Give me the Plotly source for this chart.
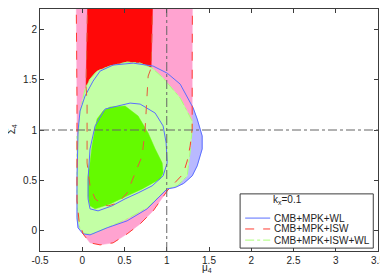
import plotly.graph_objects as go

# ---- contour data (mu_4, Sigma_4) ----
# CMB+MPK+WL 2-sigma
wl2_mu = [0.128, 0.211, 0.365, 0.602, 0.839, 1.005, 1.159, 1.313, 1.36, 1.419, 1.419, 1.36, 1.301, 1.20, 1.10,
          1.005, 0.768, 0.531, 0.294, 0.092, 0.009, -0.05, -0.062, -0.062, -0.05, -0.026, 0.033, 0.128]
wl2_sig = [1.485, 1.584, 1.644, 1.663, 1.634, 1.564, 1.455, 1.218, 1.109, 0.941, 0.812, 0.644, 0.545, 0.47, 0.43,
           0.416, 0.218, 0.099, 0.03, -0.04, -0.03, 0.03, 0.129, 0.495, 0.99, 1.188, 1.337, 1.485]
# CMB+MPK+WL 1-sigma
wl1_mu = [0.152, 0.270, 0.566, 0.685, 0.863, 0.957, 0.993, 1.005, 0.957, 0.827, 0.661, 0.507, 0.353, 0.187,
          0.092, 0.069, 0.069, 0.092, 0.152]
wl1_sig = [1.040, 1.208, 1.267, 1.257, 1.168, 1.040, 0.871, 0.673, 0.545, 0.446, 0.376, 0.317, 0.248, 0.198,
           0.218, 0.317, 0.515, 0.812, 1.040]
# CMB+MPK+ISW 2-sigma
isw2_mu = [-0.073, -0.062, -0.062, -0.038, 0.009, 0.092, 0.211, 0.365, 0.531, 0.685, 0.839, 1.005, 1.194, 1.242,
           1.277, 1.301, 1.301, 1.305, 1.305]
isw2_sig = [2.5, 1.287, 0.297, 0.099, -0.030, -0.119, -0.139, -0.119, -0.030, 0.069, 0.198, 0.396, 0.564, 0.693,
            0.842, 1.010, 1.683, 2.198, 2.5]
# CMB+MPK+ISW 1-sigma
isw1_mu = [0.069, 0.045, 0.057, 0.057, 0.092, 0.152, 0.235, 0.306, 0.424, 0.531, 0.626, 0.709, 0.744, 0.768,
           0.780, 0.815, 0.839, 0.84]
isw1_sig = [2.5, 1.436, 1.267, 0.673, 0.446, 0.317, 0.267, 0.248, 0.277, 0.376, 0.574, 0.743, 1.010, 1.337,
            1.535, 1.614, 2.198, 2.5]
# CMB+MPK+ISW+WL 2-sigma
all2_mu = [0.092, 0.175, 0.329, 0.531, 0.685, 0.827, 0.957, 1.159, 1.301, 1.301, 1.277, 1.242, 1.13, 1.005,
           0.768, 0.531, 0.294, 0.128, 0.033, -0.026, -0.05, -0.062, -0.062, -0.05, -0.026, 0.033, 0.092]
all2_sig = [1.505, 1.584, 1.634, 1.673, 1.663, 1.614, 1.515, 1.317, 1.089, 1.010, 0.792, 0.545, 0.45, 0.416,
            0.228, 0.119, 0.03, -0.03, -0.03, 0.02, 0.099, 0.297, 0.941, 0.941, 1.188, 1.406, 1.505]
# CMB+MPK+ISW+WL 1-sigma
all1_mu = [0.152, 0.175, 0.246, 0.329, 0.507, 0.661, 0.780, 0.863, 0.946, 0.957, 0.922, 0.709, 0.507, 0.329,
           0.152, 0.092, 0.069, 0.069, 0.092, 0.116, 0.152]
all1_sig = [1.010, 1.109, 1.188, 1.228, 1.238, 1.139, 0.970, 0.812, 0.673, 0.574, 0.515, 0.416, 0.337, 0.267,
            0.218, 0.248, 0.347, 0.545, 0.673, 0.842, 1.010]

x_ticks = [-0.5, 0, 0.5, 1, 1.5, 2, 2.5, 3, 3.5]
y_ticks = [0, 0.5, 1, 1.5, 2]
series_names = ["CMB+MPK+WL", "CMB+MPK+ISW", "CMB+MPK+ISW+WL"]
legend_title = "k<sub>x</sub>=0.1"

BLUE_FILL = "rgb(185,185,255)"
BLUE_LINE = "rgb(90,110,255)"
PINK = "rgb(255,163,208)"
RED = "rgb(255,8,8)"
RED_LINE = "rgb(255,60,50)"
LGREEN = "rgb(195,255,165)"
LGREEN_LINE = "rgb(170,255,120)"
DGREEN = "rgb(100,250,0)"
FONT = "Liberation Sans, Arial"
TXT = "rgb(30,30,30)"
AX = "rgb(60,60,60)"

fig = go.Figure()

def fill(mu, sig, color):
    fig.add_trace(go.Scatter(x=mu, y=sig, mode="lines", fill="toself", fillcolor=color,
                             line=dict(color=color, width=0.5), showlegend=False, hoverinfo="skip"))

fill(wl2_mu, wl2_sig, BLUE_FILL)
fill(isw2_mu, isw2_sig, PINK)
fill(isw1_mu, isw1_sig, RED)
fill(all2_mu, all2_sig, LGREEN)
fill(all1_mu, all1_sig, DGREEN)

def outline(mu, sig, color, dash):
    fig.add_trace(go.Scatter(x=mu, y=sig, mode="lines", line=dict(color=color, width=1, dash=dash),
                             showlegend=False, hoverinfo="skip"))

outline(all2_mu, all2_sig, LGREEN_LINE, "dashdot")
outline(wl2_mu, wl2_sig, BLUE_LINE, "solid")
outline(wl1_mu, wl1_sig, BLUE_LINE, "solid")
outline(isw2_mu, isw2_sig, RED_LINE, "dash")
outline(isw1_mu, isw1_sig, "rgb(230,90,60)", "dash")

# reference lines
fig.add_shape(type="line", xref="x", yref="paper", x0=1, x1=1, y0=0, y1=1,
              line=dict(color="rgb(100,100,100)", width=1, dash="dashdot"), layer="above")
fig.add_shape(type="line", xref="paper", yref="y", x0=0, x1=1, y0=1, y1=1,
              line=dict(color="rgb(100,100,100)", width=1, dash="dashdot"), layer="above")

# legend box (drawn manually to match compact layout)
fig.add_shape(type="rect", xref="paper", yref="paper", x0=0.592, x1=0.986, y0=0.012, y1=0.236,
              fillcolor="white", line=dict(color=AX, width=1), layer="above")
fig.add_annotation(xref="paper", yref="paper", x=0.731, y=0.211, text=legend_title, showarrow=False,
                   font=dict(family=FONT, size=10, color=TXT), xanchor="center", yanchor="middle")
leg_styles = [(BLUE_LINE, "solid"), (RED_LINE, "dash"), (LGREEN_LINE, "dashdot")]
leg_y = [0.136, 0.091, 0.045]
for name, (col, dash), yy in zip(series_names, leg_styles, leg_y):
    fig.add_shape(type="line", xref="paper", yref="paper", x0=0.607, x1=0.681, y0=yy, y1=yy,
                  line=dict(color=col, width=1, dash=dash), layer="above")
    fig.add_annotation(xref="paper", yref="paper", x=0.687, y=yy, text=name, showarrow=False,
                       font=dict(family=FONT, size=10, color=TXT), xanchor="left", yanchor="middle")

axis_common = dict(showgrid=False, zeroline=False, showline=True, linecolor=AX, linewidth=1,
                   mirror="allticks", ticks="inside", ticklen=4, tickcolor=AX, automargin=False,
                   tickfont=dict(family=FONT, size=10, color=TXT))

fig.update_xaxes(range=[-0.5, 3.5], tickvals=x_ticks, ticktext=[f"{v:g}" for v in x_ticks], **axis_common)
fig.update_yaxes(range=[-0.2, 2.2], tickvals=y_ticks, ticktext=[f"{v:g}" for v in y_ticks], **axis_common)

fig.add_annotation(xref="paper", yref="paper", x=0.494, y=-0.07, text="μ<sub>4</sub>", showarrow=False,
                   font=dict(family=FONT, size=10, color=TXT), xanchor="center", yanchor="middle")
fig.add_annotation(xref="paper", yref="paper", x=-0.082, y=0.504, text="Σ<sub>4</sub>", showarrow=False,
                   textangle=-90, font=dict(family=FONT, size=10, color=TXT),
                   xanchor="center", yanchor="middle")

# the page adds an 8px body margin, so the figure is sized/offset to compensate
fig.update_layout(
    width=380, height=269,
    margin=dict(l=32, r=10, t=1, b=26),
    paper_bgcolor="white", plot_bgcolor="white",
    showlegend=False,
)

fig.write_html("out.html")
